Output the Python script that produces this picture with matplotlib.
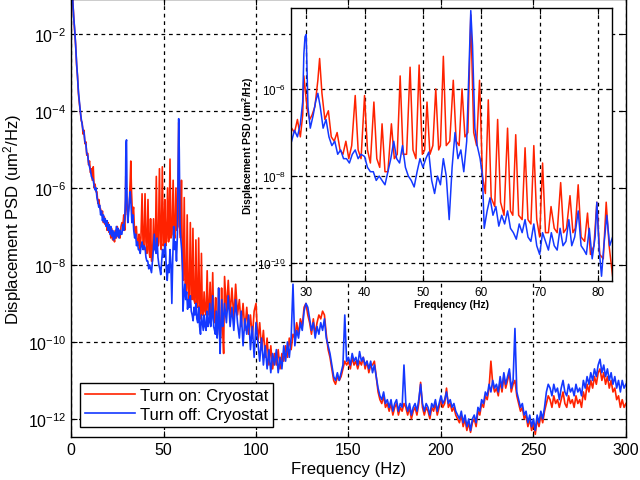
import numpy as np
import matplotlib
matplotlib.use('Agg')
import matplotlib.pyplot as plt

plt.rcParams['font.family'] = ['Liberation Sans', 'DejaVu Sans']
plt.rcParams['mathtext.default'] = 'regular'

#~~~~~~~~~~~~~~~~~~~~~~~~~1. data (log10 of PSD)~~~~~~~~~~~~~~~~~~~~~~
# low band, 0.5 .. 27 Hz, step 0.5 Hz
f_low = [0.5, 1, 1.5, 2, 2.5, 3, 3.5, 4, 4.5, 5, 5.5, 6, 6.5, 7, 7.5, 8, 8.5, 9, 9.5, 10,
         10.5, 11, 11.5, 12, 12.5, 13, 13.5, 14, 14.5, 15, 15.5, 16, 16.5, 17, 17.5, 18,
         18.5, 19, 19.5, 20, 20.5, 21, 21.5, 22, 22.5, 23, 23.5, 24, 24.5, 25, 25.5, 26,
         26.5, 27]
blue_low = [-0.6, -1.2, -1.6, -1.9, -2.3, -2.75, -3.1, -3.5, -3.75, -4.0, -4.2, -4.35, -4.5,
            -4.55, -4.8, -4.85, -5.1, -5.15, -5.35, -5.45, -5.55, -5.7, -5.75, -5.8, -5.95,
            -6.05, -6.0, -6.25, -6.35, -6.5, -6.45, -6.7, -6.6, -6.85, -6.7, -6.9, -6.8, -7.0,
            -6.85, -7.1, -6.95, -7.2, -7.0, -7.25, -7.1, -7.35, -7.15, -7.3, -7.0, -7.25,
            -7.05, -7.3, -7.1, -7.2]
red_low = [-0.6, -1.2, -1.6, -1.95, -2.3, -2.8, -3.1, -3.55, -3.8, -4.0, -4.25, -4.3, -4.6,
           -4.5, -4.85, -4.8, -5.15, -5.1, -5.4, -5.3, -5.6, -5.5, -5.8, -5.45, -6.0, -5.9,
           -6.1, -6.1, -6.4, -6.3, -6.5, -6.55, -6.7, -6.6, -6.9, -6.75, -6.95, -6.85, -7.1,
           -6.9, -7.15, -7.0, -7.3, -7.05, -7.35, -7.2, -7.4, -7.1, -7.3, -7.0, -7.25, -7.1,
           -7.3, -7.0]

# inset band, 27.5 .. 82.5 Hz
f_in_red = [27.5, 28.0, 28.5, 29.0, 29.4, 29.6, 30.2, 30.6, 31.0, 31.5, 32.0, 32.3, 32.7,
            33.2, 33.8, 34.3, 34.8, 35.3, 35.8, 36.3, 36.8, 37.3, 37.8, 38.4, 38.9, 39.4,
            40.0, 40.5, 41.0, 41.6, 42.1, 42.6, 43.0, 43.5, 44.0, 44.6, 45.1, 45.6, 46.1,
            46.6, 47.2, 47.8, 48.3, 48.8, 49.35, 49.9, 50.3, 50.7, 51.2, 51.7, 52.2, 52.7,
            53.0, 53.5, 54.0, 54.6, 55.2, 55.7, 56.2, 56.7, 57.2, 57.7, 58.2, 58.7, 59.2,
            59.7, 60.2, 60.7, 61.2, 61.7, 62.3, 62.8, 63.3, 63.9, 64.5, 65.0, 65.4, 65.9,
            66.4, 67.0, 67.5, 68.0, 68.5, 69.0, 69.5, 70.0, 70.5, 71.0, 71.5, 71.95, 72.5,
            73.0, 73.6, 74.1, 74.6, 75.2, 75.7, 76.1, 76.6, 77.1, 77.7, 78.2, 78.7, 79.3,
            79.8, 80.3, 80.9, 81.4, 81.9, 82.5]
red_in = [-6.9, -7.0, -6.7, -7.1, -6.6, -5.7, -6.5, -6.7, -6.6, -6.4, -5.8, -5.3, -6.1,
          -6.7, -6.5, -7.1, -7.2, -7.0, -7.4, -7.5, -7.2, -7.6, -7.3, -6.15, -7.4, -7.6,
          -6.15, -7.4, -7.7, -6.3, -7.6, -7.8, -6.8, -7.9, -7.9, -6.8, -7.6, -7.5, -5.7,
          -7.5, -7.5, -5.5, -7.4, -7.6, -5.45, -7.5, -7.4, -6.3, -7.5, -7.3, -6.0, -7.4,
          -7.3, -5.25, -7.3, -7.2, -5.8, -7.2, -7.3, -6.0, -7.1, -7.0, -4.3, -7.0, -7.3,
          -5.8, -8.0, -8.4, -6.25, -8.5, -8.7, -6.7, -8.6, -8.9, -6.9, -8.8, -8.9, -7.05,
          -8.9, -9.0, -7.35, -9.0, -9.1, -7.3, -9.0, -9.4, -7.7, -9.3, -9.3, -8.7, -9.2,
          -9.3, -8.15, -9.3, -9.2, -8.45, -9.3, -9.2, -8.2, -9.4, -9.5, -8.85, -9.8, -9.6,
          -8.6, -9.8, -9.9, -8.6, -9.6, -10.3]

f_in_blue = [27.5, 28.0, 28.5, 29.0, 29.4, 29.6, 29.8, 30.0, 30.3, 30.7, 31.2, 31.6, 32.0,
             32.4, 32.9, 33.4, 33.9, 34.4, 34.9, 35.4, 35.9, 36.4, 36.9, 37.4, 37.9, 38.4,
             38.9, 39.4, 40.0, 40.5, 41.0, 41.5, 42.0, 42.5, 43.0, 43.5, 44.0, 44.5, 45.0,
             45.5, 46.0, 46.5, 47.0, 47.5, 48.0, 48.5, 49.0, 49.5, 50.0, 50.5, 51.0, 51.5,
             52.0, 52.5, 53.0, 53.5, 54.0, 54.5, 55.0, 55.5, 56.0, 56.5, 57.0, 57.5, 57.9,
             58.2, 58.5, 58.9, 59.3, 59.8, 60.2, 60.5, 61.0, 61.5, 62.0, 62.5, 63.0, 63.5,
             64.0, 64.5, 65.0, 65.5, 66.0, 66.5, 67.0, 67.5, 68.0, 68.5, 69.0, 69.5, 70.0,
             70.5, 71.0, 71.5, 72.0, 72.5, 73.0, 73.5, 74.0, 74.5, 75.0, 75.5, 76.0, 76.6,
             77.1, 77.6, 78.0, 78.5, 79.0, 79.5, 79.8, 80.2, 80.6, 81.0, 81.5, 82.0, 82.5]
blue_in = [-7.2, -6.95, -7.1, -6.8, -6.3, -5.2, -4.8, -4.75, -6.4, -6.9, -6.6, -6.3, -6.1,
           -6.4, -6.9, -6.7, -7.1, -7.3, -7.2, -7.5, -7.4, -7.6, -7.6, -7.7, -7.5, -7.4,
           -7.6, -7.5, -7.55, -7.8, -7.9, -7.9, -8.1, -8.0, -8.1, -8.2, -7.9, -7.6, -7.2,
           -7.6, -7.7, -7.3, -7.8, -8.0, -8.1, -8.25, -7.9, -7.6, -7.8, -7.6, -7.45, -8.1,
           -8.4, -8.0, -8.2, -7.6, -8.0, -9.0, -7.8, -7.0, -7.6, -7.4, -7.9, -7.2, -5.5,
           -4.2, -5.0, -6.9, -7.3, -7.6, -8.0, -9.2, -8.8, -8.5, -8.9, -8.7, -9.15, -8.9,
           -9.1, -8.8, -9.2, -9.3, -9.45, -9.1, -9.3, -9.0, -9.4, -9.5, -9.1, -9.6, -9.8,
           -9.3, -9.5, -9.7, -9.3, -9.6, -9.7, -9.2, -9.6, -9.5, -9.0, -9.6, -9.4, -8.8,
           -9.6, -9.7, -9.8, -9.2, -9.9, -9.4, -8.6, -9.7, -10.3, -9.6, -8.9, -9.6, -9.4]

# high band, 83 .. 300 Hz, step 1 Hz
f_hi = list(range(83, 301))
blue_hi = [-9.0, -9.5, -8.8, -9.6, -9.1, -9.7, -8.9, -9.5,
           -9.9, -9.2, -10.1, -9.4, -9.8, -9.3, -10.2, -9.6, -10.4, -9.5,
           -10.0, -10.5, -9.9, -10.6, -10.1, -10.7, -10.2, -10.8, -10.3, -10.6,
           -10.2, -10.8, -10.4, -10.7, -10.1, -10.5, -10.0, -10.4, -9.9,
           -8.5, -10.1, -9.7, -9.9, -9.5, -9.7, -9.2, -9.0, -9.1, -9.4, -9.7, -9.5, -9.9,
           -9.6, -9.8, -9.5, -9.7, -9.4, -9.9, -10.1, -10.3, -10.6, -10.9, -11.0, -10.8,
           -11.0, -10.8, -10.6, -9.3, -10.5, -10.4,
           -10.6, -10.3, -10.5, -10.4, -10.6, -10.25, -10.5, -10.4, -10.6, -10.5, -10.7,
           -10.5, -10.8, -10.6, -10.9, -11.2, -11.4, -11.5, -11.3, -11.6, -11.5, -11.7,
           -11.5, -11.8, -11.6, -11.5, -11.8, -11.6, -11.7, -10.6, -11.6, -11.8, -11.6,
           -11.9, -11.7, -11.6, -11.8, -11.5, -11.1, -11.6, -11.8, -11.6, -11.7, -11.9,
           -11.6, -11.7, -11.5, -11.8, -11.6, -11.4, -11.6, -11.5, -11.3, -11.6, -11.5,
           -11.7, -11.6, -11.8, -11.9, -12.0, -11.8, -12.1, -11.9, -12.2, -12.0, -12.3,
           -12.0, -11.9, -12.1, -11.7, -11.8, -11.5, -11.6, -11.3, -11.4, -11.1, -11.3,
           -11.0, -11.2, -11.1, -11.3, -10.9, -11.2, -10.8, -11.1, -10.9, -10.7, -11.2,
           -11.0, -9.65, -11.3, -11.5, -11.7, -11.6, -11.9, -11.8, -12.1, -11.9, -12.2,
           -12.0, -12.3, -11.9, -12.1, -11.8, -12.0, -11.7, -11.3, -11.1, -11.2, -11.4,
           -11.1, -11.3, -11.2, -11.5, -11.2, -11.0, -11.3, -11.4, -11.1, -11.3, -11.2,
           -11.4, -11.1, -11.3, -11.2, -11.4, -11.0, -11.2, -10.9, -11.1, -10.8, -11.0,
           -10.7, -10.9, -10.6, -10.45, -10.8, -10.6, -10.9, -10.7, -11.0, -10.8, -11.1,
           -10.9, -11.2, -11.0, -11.3, -11.0, -11.2, -11.1]
red_hi = [-8.3, -9.2, -8.4, -9.3, -8.6, -9.4, -8.5, -9.3,
          -8.9, -9.6, -9.0, -9.7, -9.1, -9.8, -9.3, -9.9, -9.2, -9.0,
          -10.0, -9.5, -10.2, -9.7, -10.4, -9.9, -10.6, -10.1, -10.7, -10.3,
          -10.6, -10.2, -10.7, -10.3, -10.5, -10.1, -10.4, -9.9, -10.2,
          -9.8, -9.9, -9.5, -9.8, -9.4, -9.6, -9.1, -9.0, -9.3, -9.5, -9.8, -9.4, -9.8,
          -9.5, -9.3, -9.4, -9.2, -9.3, -9.8, -10.2, -10.4, -10.7, -11.0, -11.1, -10.9,
          -11.0, -10.9, -10.7, -10.5, -10.6, -10.5,
          -10.7, -10.4, -10.6, -10.5, -10.7, -10.5, -10.6, -10.4, -10.7, -10.5, -10.8,
          -10.6, -10.6, -10.5, -10.9, -11.3, -11.5, -11.6, -11.4, -11.7, -11.6, -11.8,
          -11.6, -11.9, -11.7, -11.6, -11.9, -11.7, -11.8, -11.6, -11.7, -11.9, -11.7,
          -12.0, -11.8, -11.7, -11.9, -11.6, -11.05, -11.7, -11.9, -11.7, -11.8, -12.0,
          -11.7, -11.8, -11.6, -11.9, -11.7, -11.5, -11.7, -11.6, -11.2, -11.7, -11.6,
          -11.8, -11.7, -11.9, -12.0, -12.1, -11.9, -12.2, -12.0, -12.3, -12.1, -12.35,
          -12.1, -12.0, -12.2, -11.8, -11.9, -11.6, -11.7, -11.4, -11.5, -11.2, -10.5,
          -11.1, -11.3, -11.2, -11.4, -11.0, -11.3, -10.9, -11.2, -11.0, -10.8, -11.3,
          -11.1, -11.0, -11.4, -11.6, -11.8, -11.7, -12.0, -11.9, -12.2, -12.0, -12.3,
          -12.1, -12.4, -12.0, -12.2, -11.9, -12.1, -11.8, -11.6, -11.4, -11.5, -11.7,
          -11.4, -11.6, -11.5, -11.7, -11.5, -11.3, -11.6, -11.7, -11.4, -11.6, -11.5,
          -11.7, -11.4, -11.6, -11.5, -11.7, -11.3, -11.5, -11.1, -11.3, -11.0, -11.2,
          -10.9, -11.1, -10.8, -10.7, -11.0, -10.8, -11.1, -10.9, -11.2, -11.0, -11.3,
          -11.2, -11.5, -11.4, -11.7, -11.5, -11.7, -11.6]

RED = '#ff2200'
BLUE = '#1438ff'

#~~~~~~~~~~~~~~~~~~~~~~~~~2. assemble series~~~~~~~~~~~~~~~~~~~~~~~~~~~~~~~~~~~~~~~~~~~~
f_red = np.array(f_low + f_in_red + f_hi, dtype=float)
p_red = 10.0 ** np.array(red_low + red_in + red_hi)
f_blue = np.array(f_low + f_in_blue + f_hi, dtype=float)
p_blue = 10.0 ** np.array(blue_low + blue_in + blue_hi)


def matlab_axes(ax, size):
    ax.tick_params(which='both', direction='in', top=True, right=True,
                   labelsize=size, length=4, width=0.8)
    ax.minorticks_off()
    ax.grid(True, color='black', linestyle=(0, (3, 3)), linewidth=0.9)
    for s in ax.spines.values():
        s.set_linewidth(1.0)


#~~~~~~~~~~~~~~~~~~~~~~~~~3. main axes~~~~~~~~~~~~~~~~~~~~~~~~~~~~~~~~~~~~~~~~~~~~~~~~~~
fig = plt.figure(figsize=(6.4, 4.81), dpi=100)
ax = fig.add_axes([0.111, 0.0894, 0.867, 0.9106])
ax.semilogy(f_red, p_red, color=RED, lw=1.2, label='Turn on: Cryostat')
ax.semilogy(f_blue, p_blue, color=BLUE, lw=1.2, label='Turn off: Cryostat')
ax.set_xlim(0, 300)
ax.set_ylim(10**-12.47, 10**-1.09)
ax.set_xticks([0, 50, 100, 150, 200, 250, 300])
ax.set_yticks([1e-12, 1e-10, 1e-8, 1e-6, 1e-4, 1e-2])
ax.set_yticklabels([r'$10^{-12}$', r'$10^{-10}$', r'$10^{-8}$', r'$10^{-6}$',
                    r'$10^{-4}$', r'$10^{-2}$'])
matlab_axes(ax, 11.5)
ax.set_xlabel('Frequency (Hz)', fontsize=12, labelpad=3)
ax.set_ylabel('Displacement PSD (um$^2$/Hz)', fontsize=12, labelpad=3)
leg = ax.legend(loc='lower left', bbox_to_anchor=(0.016, 0.023), borderaxespad=0,
                fontsize=12, fancybox=False, edgecolor='black', framealpha=1,
                handlelength=3.0, handletextpad=0.3, borderpad=0.3, labelspacing=0.25)
leg.get_frame().set_linewidth(1.0)

#~~~~~~~~~~~~~~~~~~~~~~~~~4. inset~~~~~~~~~~~~~~~~~~~~~~~~~~~~~~~~~~~~~~~~~~~~~~~~~~~~~~
ins = fig.add_axes([0.4547, 0.4137, 0.5016, 0.5676])
ins.set_facecolor('white')
ins.semilogy(f_in_red, 10.0 ** np.array(red_in), color=RED, lw=1.1)
ins.semilogy(f_in_blue, 10.0 ** np.array(blue_in), color=BLUE, lw=1.1)
ins.set_xlim(27.4, 82.4)
ins.set_ylim(10**-10.41, 10**-4.14)
ins.set_xticks([30, 40, 50, 60, 70, 80])
ins.set_yticks([1e-10, 1e-8, 1e-6])
ins.set_yticklabels([r'$10^{-10}$', r'$10^{-8}$', r'$10^{-6}$'])
matlab_axes(ins, 8.5)
ins.set_xlabel('Frequency (Hz)', fontsize=7.5, fontweight='bold', labelpad=1)
ins.set_ylabel('Displacement PSD (um$^2$/Hz)', fontsize=7.5, fontweight='bold', labelpad=1)

fig.savefig('out.png', dpi=100)
